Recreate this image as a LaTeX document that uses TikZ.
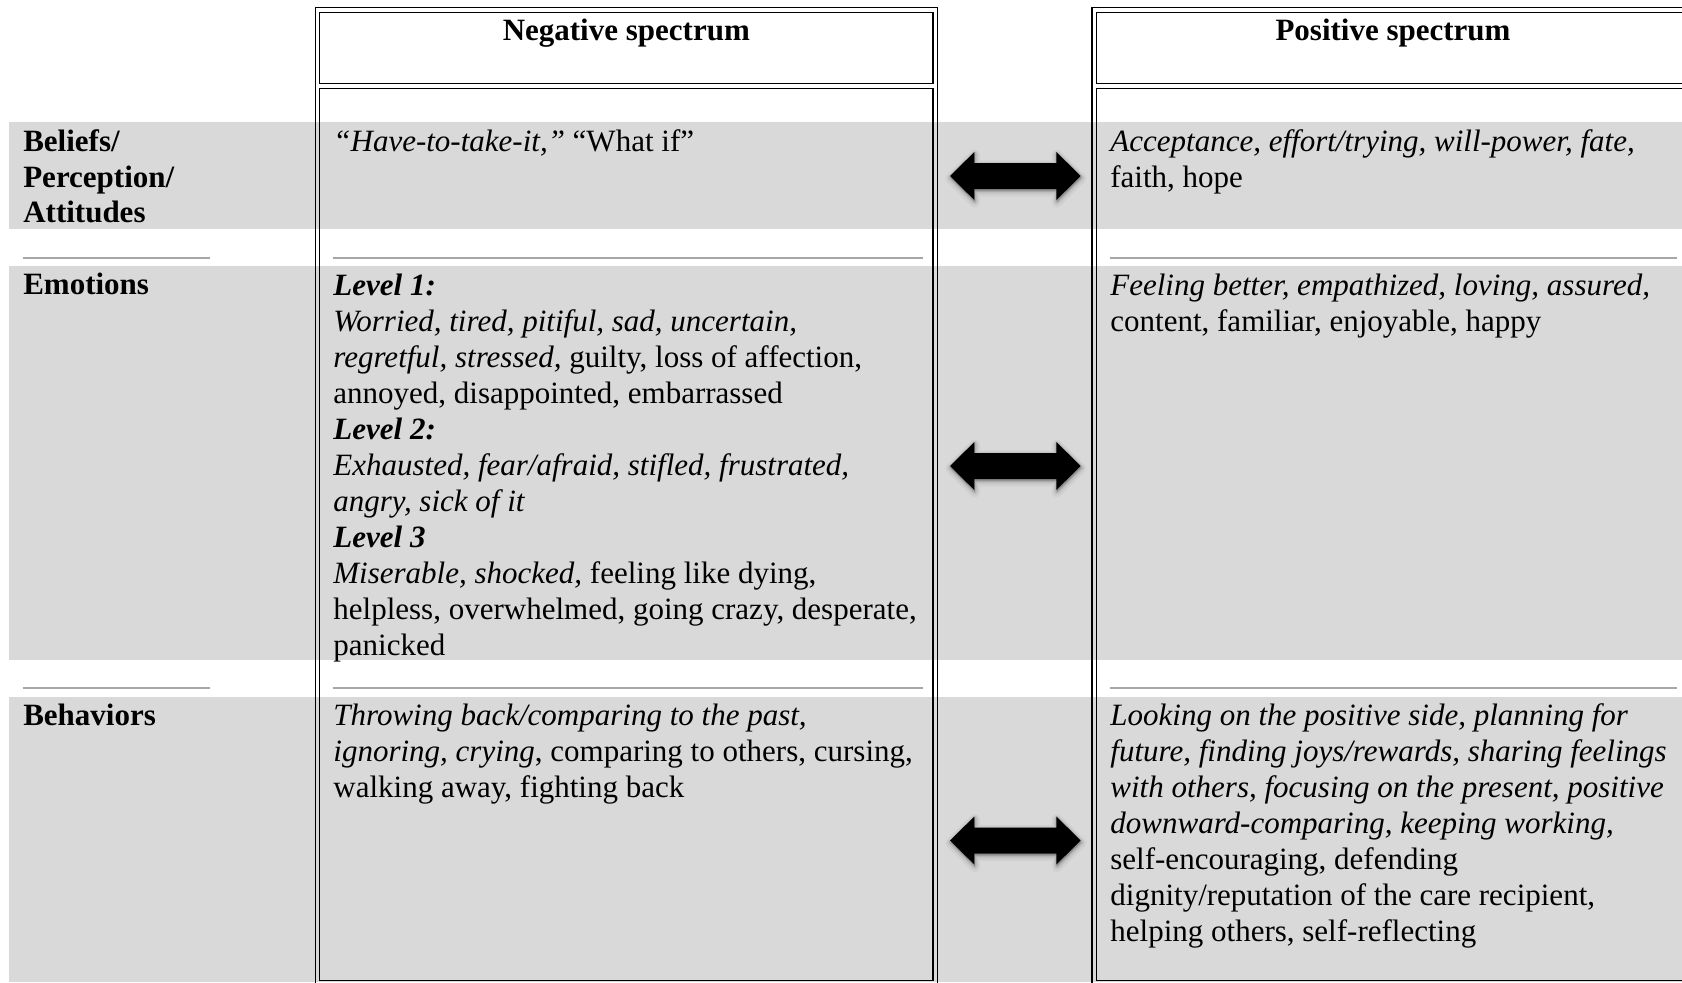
\documentclass[tikz,border=0pt]{standalone}
\usepackage{fontspec}
\setmainfont{Liberation Serif}
\definecolor{bandgray}{HTML}{D9D9D9}
\definecolor{sepgray}{HTML}{A6A6A6}
\newcommand\dblarrowpath[1]{\path[#1] (-65.35,0) -- (-41,-24) -- (-41,-13) -- (41,-13) -- (41,-24) -- (65.35,0) -- (41,24) -- (41,13) -- (-41,13) -- (-41,24) -- cycle;}
\newcommand\celltext[1]{\begin{tabular}[t]{@{}l@{}}#1\end{tabular}}
\tikzset{
  band/.style={fill=bandgray, draw=none},
  sepline/.style={draw=sepgray, line width=1pt},
  frame/.style={draw=black, line width=0.7pt},
  txt/.style={anchor=base west, inner sep=0pt, font=\fontsize{15.5}{18}\selectfont},
  lbl/.style={anchor=base west, inner sep=0pt, font=\fontsize{15.5}{17.8}\selectfont\bfseries},
  hdr/.style={anchor=base, inner sep=0pt, font=\fontsize{15.5}{18}\selectfont\bfseries},
  dblarrow/.pic={
    \dblarrowpath{fill=black, draw=black, opacity=0.04, line width=5pt, line join=round, shift={(0.5,2.5)}}
    \dblarrowpath{fill=black, draw=black, opacity=0.06, line width=3pt, line join=round, shift={(0.5,2)}}
    \dblarrowpath{fill=black, draw=black, opacity=0.10, line width=1.5pt, line join=round, shift={(0.5,1.5)}}
    \dblarrowpath{fill=black}
  }
}
\begin{document}
\begin{tikzpicture}[x=0.5pt,y=-0.5pt]
\useasboundingbox (0,0) rectangle (1682,982);
\clip (0,0) rectangle (1682,982);
\fill[white] (0,0) rectangle (1682,982);
% grey bands
\path[band] (9,122.3) rectangle (1682,229);
\path[band] (9,266) rectangle (1682,660);
\path[band] (9,697.3) rectangle (1682,982);
% separator lines
\draw[sepline] (22.7,257.5) -- (210,257.5);
\draw[sepline] (332.5,257.5) -- (923,257.5);
\draw[sepline] (1110,257.5) -- (1677,257.5);
\draw[sepline] (22.7,688) -- (210,688);
\draw[sepline] (332.5,688) -- (923,688);
\draw[sepline] (1110,688) -- (1677,688);
% negative column frame
\draw[frame] (315.6,7.7) rectangle (937.3,1000);
\draw[frame] (319.7,12.3) rectangle (932.9,83.3);
\draw[frame] (319.7,88.3) rectangle (932.9,980.7);
% positive column frame
\draw[frame] (1092,7.7) rectangle (1700,1000);
\draw[frame] (1096.2,12.3) rectangle (1690,83.3);
\draw[frame] (1096.2,88.3) rectangle (1690,980.7);
% headers
\node[hdr] (neghdr) at (626.3,40) {Negative spectrum};
\node[hdr] (poshdr) at (1393,40) {Positive spectrum};
% row labels
\node[lbl] (lbelief) at (22.9,151.7) {\celltext{Beliefs/\\Perception/\\Attitudes}};
\node[lbl] (lemo) at (22.9,294.5) {Emotions};
\node[lbl] (lbeh) at (22.9,725.5) {Behaviors};
% negative cells
\node[txt] (nbelief) at (333,151.7) {\textit{“Have-to-take-it,”} “What if”};
\node[txt] (nemo) at (333,295) {\celltext{\textbf{\textit{Level 1:}}\\
\textit{Worried, tired, pitiful, sad, uncertain,}\\
\textit{regretful, stressed,} guilty, loss of affection,\\
annoyed, disappointed, embarrassed\\
\textbf{\textit{Level 2:}}\\
\textit{Exhausted, fear/afraid, stifled, frustrated,}\\
\textit{angry, sick of it}\\
\textbf{\textit{Level 3}}\\
\textit{Miserable, shocked,} feeling like dying,\\
helpless, overwhelmed, going crazy, desperate,\\
panicked}};
\node[txt] (nbeh) at (333,725.5) {\celltext{\textit{Throwing back/comparing to the past,}\\
\textit{ignoring, crying}, comparing to others, cursing,\\
walking away, fighting back}};
% positive cells
\node[txt] (pbelief) at (1110,151.7) {\celltext{\textit{Acceptance, effort/trying, will-power, fate,}\\
faith, hope}};
\node[txt] (pemo) at (1110,295) {\celltext{\textit{Feeling better, empathized, loving, assured,}\\
content, familiar, enjoyable, happy}};
\node[txt] (pbeh) at (1110,725.5) {\celltext{\textit{Looking on the positive side, planning for}\\
\textit{future, finding joys/rewards, sharing feelings}\\
\textit{with others, focusing on the present, positive}\\
\textit{downward-comparing, keeping working,}\\
self-encouraging, defending\\
dignity/reputation of the care recipient,\\
helping others, self-reflecting}};
% arrows
\coordinate (a1) at (1015.35,176);
\coordinate (a2) at (1015.35,466);
\coordinate (a3) at (1015.35,840.5);
\pic at (a1) {dblarrow};
\pic at (a2) {dblarrow};
\pic at (a3) {dblarrow};
\end{tikzpicture}
\end{document}
